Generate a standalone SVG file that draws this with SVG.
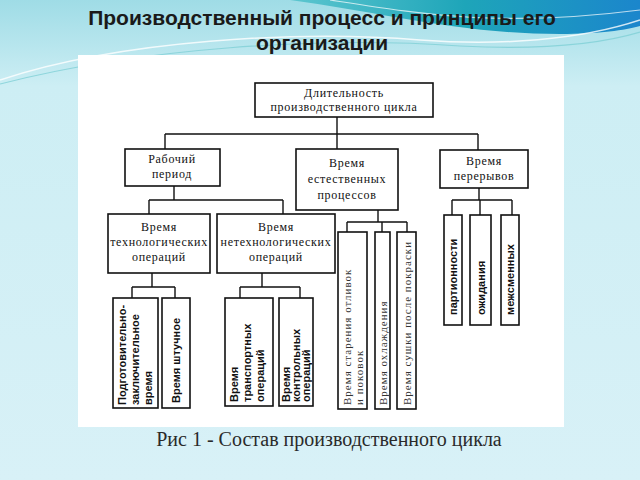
<svg xmlns="http://www.w3.org/2000/svg" width="640" height="480" viewBox="0 0 640 480">
<defs>
<linearGradient id="bg" x1="0" y1="0" x2="0" y2="1">
<stop offset="0" stop-color="#9fdce6"/>
<stop offset="0.18" stop-color="#cdeef4"/>
<stop offset="1" stop-color="#d8f1f7"/>
</linearGradient>
<linearGradient id="band" x1="0" y1="0" x2="1" y2="0">
<stop offset="0" stop-color="#5cc6cf"/>
<stop offset="0.5" stop-color="#1ea5b9"/>
<stop offset="1" stop-color="#1b86cc"/>
</linearGradient>
<style>
.box{fill:#fff;stroke:#111;stroke-width:1.6}
.ln{fill:none;stroke:#111;stroke-width:1.4}
.t{font-family:"Liberation Serif","DejaVu Serif",serif;font-size:12px;fill:#111;text-anchor:middle;letter-spacing:0.7px}
.v{font-family:"Liberation Sans","DejaVu Sans",sans-serif;font-size:11px;fill:#111;font-weight:bold}
.vs{font-family:"Liberation Serif","DejaVu Serif",serif;font-size:11px;fill:#333;letter-spacing:1px}
</style>
</defs>
<rect width="640" height="480" fill="url(#bg)"/>
<path d="M 290 0 C 380 12 460 34 560 34 C 600 34 625 30 640 26 L 640 0 Z" fill="url(#band)"/>
<path d="M 0 80 C 120 40 300 30 420 40 C 500 46 580 40 640 20" fill="none" stroke="#ffffff" stroke-width="1.5" opacity="0.8"/>
<path d="M 0 84 C 140 48 320 36 460 46 C 540 50 600 44 640 32" fill="none" stroke="#7fcfd6" stroke-width="1.2" opacity="0.8"/>
<path d="M 330 0 C 420 14 500 28 640 10" fill="none" stroke="#ffffff" stroke-width="1.2" opacity="0.7"/>
<rect x="78" y="55" width="486" height="372" fill="#ffffff"/>
<g font-family="'Liberation Sans','DejaVu Sans',sans-serif" font-weight="bold" font-size="21" fill="#1a1a1a" text-anchor="middle">
<text x="322" y="25">Производственный процесс и принципы его</text>
<text x="322" y="50">организации</text>
</g>
<text x="329" y="446" font-family="'Liberation Serif','DejaVu Serif',serif" font-size="20" fill="#2a2a2a" text-anchor="middle">Рис 1 - Состав производственного цикла</text>
<g id="connectors">
<path class="ln" d="M337 117 V149 M165 134 H478 M165 134 V149 M478 134 V150"/>
<path class="ln" d="M174 186 V200 M149 200 H283 M149 200 V214 M283 200 V214"/>
<path class="ln" d="M378 210 V222 M347 222 H407 M347 222 V232 M382 222 V232 M407 222 V232"/>
<path class="ln" d="M479 188 V200 M452 200 H512 M452 200 V215 M480 200 V215 M512 200 V215"/>
<path class="ln" d="M152 273 V287 M132 287 H175 M132 287 V298 M175 287 V298"/>
<path class="ln" d="M262 273 V287 M240 287 H300 M240 287 V298 M300 287 V298"/>
</g>
<g id="n-cycle"><rect class="box" x="255" y="83" width="178" height="34"/><text class="t" x="344" y="97">Длительность</text><text class="t" x="344" y="111">производственного цикла</text></g>
<g id="n-work"><rect class="box" x="125" y="149" width="95" height="37"/><text class="t" x="172" y="163">Рабочий</text><text class="t" x="172" y="178">период</text></g>
<g id="n-natural"><rect class="box" x="296" y="149" width="102" height="61"/><text class="t" x="347" y="167">Время</text><text class="t" x="347" y="183">естественных</text><text class="t" x="347" y="199">процессов</text></g>
<g id="n-breaks"><rect class="box" x="440" y="150" width="88" height="38"/><text class="t" x="484" y="165">Время</text><text class="t" x="484" y="180">перерывов</text></g>
<g id="n-tech"><rect class="box" x="108" y="214" width="102" height="59"/><text class="t" x="159" y="231">Время</text><text class="t" x="159" y="246">технологических</text><text class="t" x="159" y="261">операций</text></g>
<g id="n-nontech"><rect class="box" x="217" y="214" width="118" height="59"/><text class="t" x="276" y="231">Время</text><text class="t" x="276" y="246">нетехнологических</text><text class="t" x="276" y="261">операций</text></g>
<g id="n-prep"><rect class="box" x="113" y="298" width="45" height="110"/>
<text class="v" transform="translate(126,405) rotate(-90)">Подготовительно-</text>
<text class="v" transform="translate(139,405) rotate(-90)">заключительное</text>
<text class="v" transform="translate(152,405) rotate(-90)">время</text></g>
<g id="n-piece"><rect class="box" x="162" y="298" width="28" height="110"/>
<text class="v" transform="translate(180,403) rotate(-90)">Время штучное</text></g>
<g id="n-transport"><rect class="box" x="225" y="298" width="48" height="108"/>
<text class="v" transform="translate(238,402) rotate(-90)">Время</text>
<text class="v" transform="translate(251,402) rotate(-90)">транспортных</text>
<text class="v" transform="translate(264,402) rotate(-90)">операций</text></g>
<g id="n-control"><rect class="box" x="279" y="298" width="34" height="108"/>
<text class="v" transform="translate(290,402) rotate(-90)">Время</text>
<text class="v" transform="translate(300,402) rotate(-90)">контрольных</text>
<text class="v" transform="translate(310,402) rotate(-90)">операций</text></g>
<g id="n-aging"><rect class="box" x="338" y="232" width="29" height="177"/>
<text class="vs" transform="translate(351,405) rotate(-90)">Время старения отливок</text>
<text class="vs" transform="translate(363,405) rotate(-90)">и поковок</text></g>
<g id="n-cooling"><rect class="box" x="375" y="232" width="15" height="177"/>
<text class="vs" transform="translate(387,405) rotate(-90)">Время охлаждения</text></g>
<g id="n-drying"><rect class="box" x="397" y="232" width="19" height="177"/>
<text class="vs" transform="translate(411,405) rotate(-90)">Время сушки после покраски</text></g>
<g id="n-batch"><rect class="box" x="444" y="215" width="18" height="110"/>
<text class="v" transform="translate(457,315) rotate(-90)">партионности</text></g>
<g id="n-wait"><rect class="box" x="470" y="215" width="21" height="110"/>
<text class="v" transform="translate(485,315) rotate(-90)">ожидания</text></g>
<g id="n-shift"><rect class="box" x="501" y="215" width="18" height="110"/>
<text class="v" transform="translate(514,315) rotate(-90)">межсменных</text></g>
</svg>
